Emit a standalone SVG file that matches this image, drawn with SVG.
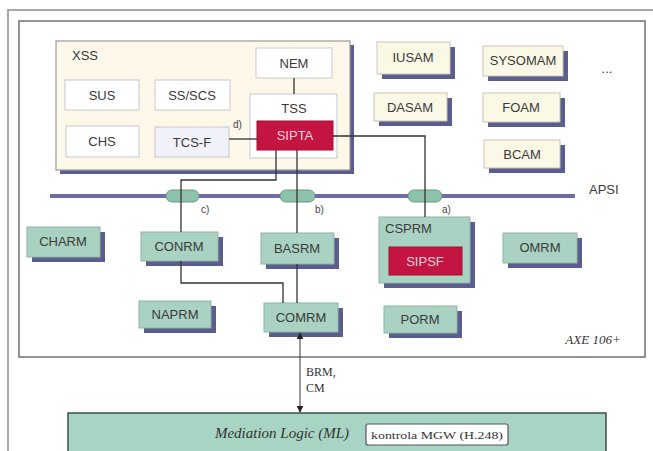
<svg xmlns="http://www.w3.org/2000/svg" width="653" height="451" viewBox="0 0 653 451">
<defs>
<style>
.t{font-family:"Liberation Sans",Arial,sans-serif;font-size:13px;fill:#3a3a3a;text-anchor:middle}
.tl{font-family:"Liberation Sans",Arial,sans-serif;font-size:13px;fill:#3a3a3a}
.tr{font-family:"Liberation Sans",Arial,sans-serif;font-size:13px;fill:#f6d2da;text-anchor:middle}
.sm{font-family:"Liberation Sans",Arial,sans-serif;font-size:10px;fill:#444}
.ser{font-family:"Liberation Serif","Times New Roman",serif;fill:#333}
.sh{fill:#5b5d8f}
.cream{fill:#fcf8e6;stroke:#c8c4b8;stroke-width:1}
.white{fill:#ffffff;stroke:#c8c8d0;stroke-width:1}
.green{fill:#a9d2c2;stroke:#8fb4a6;stroke-width:1}
.red{fill:#c41441;stroke:#a01035;stroke-width:1}
.cap{fill:#8fc2aa;stroke:#6c9a86;stroke-width:1}
.ln{fill:none;stroke:#333;stroke-width:1.3}
</style>
<marker id="ah" viewBox="0 0 10 10" refX="9" refY="5" markerWidth="7" markerHeight="7" orient="auto-start-reverse">
<path d="M0,0 L10,5 L0,10 z" fill="#222"/>
</marker>
</defs>
<rect width="653" height="451" fill="#ffffff"/>
<!-- page frame -->
<path d="M8,451 V10 H653" fill="none" stroke="#a8a8a8" stroke-width="2"/>
<!-- AXE frame -->
<g id="axe">
<rect x="19" y="21" width="626" height="336" fill="#ffffff" stroke="#7a7a7a" stroke-width="1.6"/>
<text class="ser" x="593" y="344" font-size="13" font-style="italic" text-anchor="middle">AXE 106+</text>
</g>
<!-- XSS -->
<g id="xss">
<rect class="sh" x="60" y="45" width="294" height="129"/>
<rect x="56" y="41" width="294" height="129" fill="#fdf8e9" stroke="#9a9a9a" stroke-width="1.2"/>
<text class="tl" x="72" y="60">XSS</text>
</g>
<g id="nem"><rect class="white" x="256" y="48" width="76" height="30"/><text class="t" x="294" y="68">NEM</text></g>
<g id="sus"><rect class="white" x="65" y="80" width="74" height="30"/><text class="t" x="102" y="100">SUS</text></g>
<g id="ssscs"><rect class="white" x="155" y="80" width="75" height="30"/><text class="t" x="192" y="100">SS/SCS</text></g>
<g id="chs"><rect class="white" x="66" y="126" width="73" height="31"/><text class="t" x="102" y="146">CHS</text></g>
<g id="tcsf"><rect x="155" y="127" width="74" height="30" fill="#f1f1fa" stroke="#c8c8d6"/><text class="t" x="192" y="147">TCS-F</text></g>
<g id="tss"><rect class="white" x="250" y="94" width="87" height="64"/><text class="t" x="294" y="113">TSS</text></g>
<g id="sipta"><rect class="red" x="257" y="121" width="76" height="29"/><text class="tr" x="295" y="140">SIPTA</text></g>
<!-- right cream boxes -->
<g id="iusam"><rect class="sh" x="382" y="47" width="73" height="32"/><rect class="cream" x="377" y="42" width="73" height="32"/><text class="t" x="413" y="62">IUSAM</text></g>
<g id="sysomam"><rect class="sh" x="488" y="51" width="80" height="30"/><rect class="cream" x="483" y="46" width="80" height="30"/><text class="t" x="523" y="65">SYSOMAM</text></g>
<g id="dasam"><rect class="sh" x="379" y="98" width="73" height="28"/><rect class="cream" x="374" y="93" width="73" height="28"/><text class="t" x="410" y="112">DASAM</text></g>
<g id="foam"><rect class="sh" x="488" y="98" width="77" height="29"/><rect class="cream" x="483" y="93" width="77" height="29"/><text class="t" x="521" y="112">FOAM</text></g>
<g id="bcam"><rect class="sh" x="489" y="145" width="76" height="28"/><rect class="cream" x="484" y="140" width="76" height="28"/><text class="t" x="522" y="159">BCAM</text></g>
<g id="dots"><text class="t" x="607" y="73" font-size="12">...</text></g>
<!-- APSI bus -->
<g id="apsi">
<line x1="50" y1="196" x2="575" y2="196" stroke="#6b6ca8" stroke-width="4"/>
<rect class="cap" x="166" y="190" width="33" height="12" rx="6"/>
<rect class="cap" x="280" y="190" width="35" height="12" rx="6"/>
<rect class="cap" x="408" y="190" width="34" height="12" rx="6"/>
<text class="tl" x="589" y="194">APSI</text>
<text class="sm" x="201" y="213">c)</text>
<text class="sm" x="315" y="213">b)</text>
<text class="sm" x="442" y="213">a)</text>
</g>
<!-- green boxes -->
<g id="charm"><rect class="sh" x="32" y="232" width="73" height="30"/><rect class="green" x="27" y="227" width="73" height="30"/><text class="t" x="63" y="246">CHARM</text></g>
<g id="conrm"><rect class="sh" x="146" y="237" width="77" height="29"/><rect class="green" x="141" y="232" width="77" height="29"/><text class="t" x="179" y="251">CONRM</text></g>
<g id="basrm"><rect class="sh" x="266" y="238" width="73" height="31"/><rect class="green" x="261" y="233" width="73" height="31"/><text class="t" x="297" y="253">BASRM</text></g>
<g id="csprm"><rect class="sh" x="384" y="222" width="91" height="66"/><rect class="green" x="379" y="217" width="91" height="66"/><text class="tl" x="385" y="233">CSPRM</text></g>
<g id="sipsf"><rect class="red" x="389" y="247" width="73" height="28"/><text class="tr" x="425" y="266">SIPSF</text></g>
<g id="omrm"><rect class="sh" x="508" y="238" width="74" height="30"/><rect class="green" x="503" y="233" width="74" height="30"/><text class="t" x="540" y="252">OMRM</text></g>
<g id="naprm"><rect class="sh" x="144" y="306" width="72" height="27"/><rect class="green" x="139" y="301" width="72" height="27"/><text class="t" x="175" y="319">NAPRM</text></g>
<g id="comrm"><rect class="sh" x="269" y="308" width="74" height="29"/><rect class="green" x="264" y="303" width="74" height="29"/><text class="t" x="301" y="322">COMRM</text></g>
<g id="porm"><rect class="sh" x="389" y="311" width="73" height="27"/><rect class="green" x="384" y="306" width="73" height="27"/><text class="t" x="420" y="324">PORM</text></g>
<!-- mediation -->
<g id="ml">
<rect x="68" y="413" width="538" height="50" fill="#a7d4c3" stroke="#3f4f4a" stroke-width="1.5"/>
<text class="ser" x="282" y="438" font-size="15" font-style="italic" text-anchor="middle" fill="#2e4a3e">Mediation Logic (ML)</text>
<rect x="366" y="424" width="142" height="21" rx="2" fill="#ffffff" stroke="#556" stroke-width="1.2"/>
<text class="ser" x="437" y="439" font-size="11" text-anchor="middle" textLength="132" lengthAdjust="spacingAndGlyphs">kontrola MGW (H.248)</text>
</g>
<!-- connectors -->
<g id="connectors">
<path class="ln" d="M294,78 V94"/>
<path class="ln" d="M229,139 H257"/>
<path class="ln" d="M333,136 H425 V217"/>
<path class="ln" d="M276,150 V180 H181 V232"/>
<path class="ln" d="M297,150 V233"/>
<path class="ln" d="M297,264 V303"/>
<path class="ln" d="M181,261 V283 H283 V303"/>
<path d="M300,333 V412" fill="none" stroke="#333" stroke-width="1" marker-start="url(#ah)" marker-end="url(#ah)"/>
<text class="sm" x="233" y="128">d)</text>
<text class="ser" x="306" y="376" font-size="12">BRM,</text>
<text class="ser" x="306" y="392" font-size="12">CM</text>
</g>
</svg>
